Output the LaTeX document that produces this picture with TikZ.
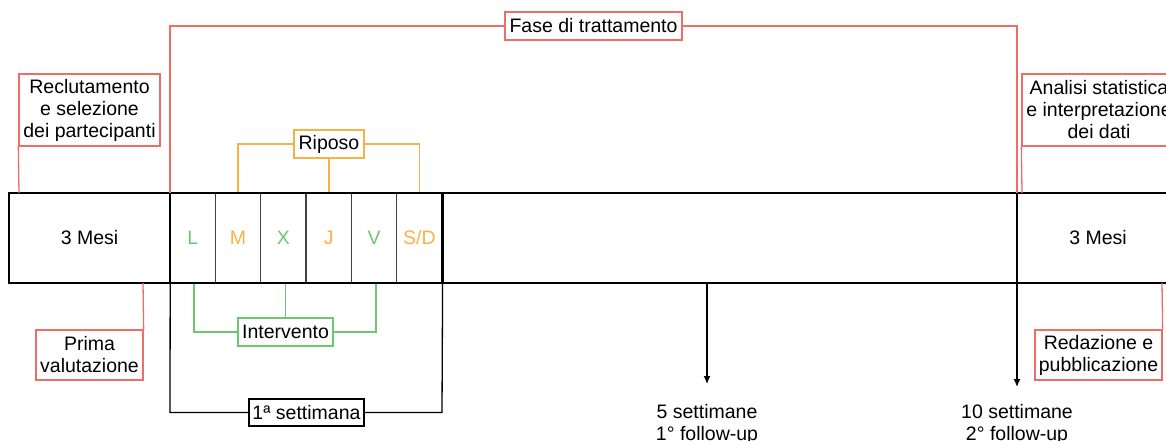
\documentclass[tikz,border=0pt]{standalone}
\usepackage{fontspec}
\setmainfont{Liberation Sans}
\usepackage{tikz}
\usetikzlibrary{arrows.meta,calc}
\definecolor{fs_red}{RGB}{236, 110, 102}
\definecolor{fs_orange}{RGB}{246, 178, 70}
\definecolor{fs_green}{RGB}{112, 198, 112}
\tikzstyle{rb}=[rectangle,draw=fs_red,fill=white,line width=1.3pt,
  inner sep=1pt,align=center]
\tikzstyle{ob}=[rectangle,draw=fs_orange,fill=white,line width=1.3pt,
  inner sep=1pt,minimum width=70pt,minimum height=28pt]
\tikzstyle{gb}=[rectangle,draw=fs_green,fill=white,line width=1.3pt,
  inner sep=1pt,minimum width=95pt,minimum height=28pt]
\tikzstyle{kb}=[rectangle,draw=black,fill=white,line width=1.3pt,
  inner sep=1pt,minimum width=115pt,minimum height=27pt]
\tikzstyle{day}=[rectangle,draw=black!75,line width=1.2pt,inner sep=0pt,
  minimum width=45.33pt,minimum height=90pt]
\tikzstyle{big}=[rectangle,inner sep=0pt,minimum height=90pt]
\tikzstyle{fu}=[align=center,inner sep=0pt,anchor=north]
\tikzstyle{bar}=[draw=black,line width=2.5pt]
\tikzstyle{rl}=[draw=fs_red,line width=1.3pt]
\tikzstyle{ol}=[draw=fs_orange,line width=1.3pt]
\tikzstyle{gl}=[draw=fs_green,line width=1.3pt]
\tikzstyle{kl}=[draw=black,line width=1.3pt]
\tikzstyle{none}=[]

\begin{document}
\begin{tikzpicture}[x=1pt, y=-1pt, every node/.style={font=\fontsize{19.5}{22}\selectfont}]
            \useasboundingbox (0,0) rectangle (1166,441);
            \clip (0,0) rectangle (1166,441);
            % barra
            \node [style=big, minimum width=161pt] (m1) at (89.5, 238) {3 Mesi};
            \node [style=day, text=fs_green] (dL) at (192.67, 238) {L};
            \node [style=day, text=fs_orange] (dM) at (238, 238) {M};
            \node [style=day, text=fs_green] (dX) at (283.33, 238) {X};
            \node [style=day, text=fs_orange] (dJ) at (328.67, 238) {J};
            \node [style=day, text=fs_green] (dV) at (374, 238) {V};
            \node [style=day, text=fs_orange] (dSD) at (419.33, 238) {S/D};
            \node [style=big, minimum width=575pt] (rest) at (729.5, 238) {};
            \node [style=big, minimum width=162pt] (m2) at (1098, 238) {3 Mesi};
            \draw [style=bar] (m1.north west) rectangle (m2.south east);
            \draw [style=bar] (m1.north east) to (m1.south east);
            \draw [style=bar] (dSD.north east) to (dSD.south east);
            \draw [style=bar] (m2.north west) to (m2.south west);
            % sopra
            \node [style=rb, minimum width=177pt, minimum height=28pt] (fase) at (593.5, 26) {Fase di trattamento};
            \node [style=rb, minimum width=141pt, minimum height=72pt] (rec) at (89.5, 110) {Reclutamento\\e selezione\\dei partecipanti};
            \node [style=rb, minimum width=154pt, minimum height=72pt] (ana) at (1099, 110) {Analisi statistica\\e interpretazione\\dei dati};
            \node [style=ob] (rip) at (329, 144) {Riposo};
            \node [style=none] (1) at (170, 193) {};
            \node [style=none] (2) at (170, 26) {};
            \node [style=none] (3) at (1017, 26) {};
            \node [style=none] (4) at (1017, 193) {};
            \node [style=none] (5) at (19, 193) {};
            \node [style=none] (6) at (1022, 193) {};
            \node [style=none] (7) at (238, 144) {};
            \node [style=none] (8) at (419.33, 144) {};
            \draw [style=rl] (1.center) to (2.center) to (fase);
            \draw [style=rl] (fase) to (3.center) to (4.center);
            \draw [style=rl] (rec.south west) to (5.center);
            \draw [style=rl] (ana.south west) to (6.center);
            \draw [style=ol] (dM.north) to (7.center) to (rip);
            \draw [style=ol] (rip) to (8.center) to (dSD.north);
            \draw [style=ol] (rip) to (rip |- dJ.north);
            % sotto
            \node [style=gb] (int) at (285.5, 332) {Intervento};
            \node [style=rb, minimum width=107pt, minimum height=50pt] (pv) at (89.5, 355) {Prima\\valutazione};
            \node [style=rb, minimum width=127pt, minimum height=50pt] (red) at (1098.5, 355) {Redazione e\\pubblicazione};
            \node [style=kb] (sett) at (306.5, 412.5) {1ª settimana};
            \node [style=fu] (fu1) at (707, 404) {5 settimane\\1° follow-up};
            \node [style=fu] (fu2) at (1017, 404) {10 settimane\\2° follow-up};
            \node [style=none] (9) at (194, 332) {};
            \node [style=none] (10) at (376, 332) {};
            \node [style=none] (11) at (143, 283) {};
            \node [style=none] (12) at (170, 412.5) {};
            \node [style=none] (13) at (442, 412.5) {};
            \node [style=none] (14) at (1162, 283) {};
            \node [style=none] (15) at (707, 283) {};
            \node [style=none] (16) at (707, 384) {};
            \node [style=none] (17) at (1017, 283) {};
            \node [style=none] (18) at (1017, 387) {};
            \draw [style=gl] (9 |- dL.south) to (9.center) to (int);
            \draw [style=gl] (int) to (10.center) to (10 |- dV.south);
            \draw [style=gl] (int) to (int |- dX.south);
            \draw [style=rl] (pv.north east) to (11.center);
            \draw [style=rl] (red.north east) to (14.center);
            \draw [style=kl] (m1.south east) to (12.center) to (sett);
            \draw [style=kl] (sett) to (13.center) to (dSD.south east);
            \draw [style=kl, -{Latex[length=8pt,width=7pt]}] (15.center) to (16.center);
            \draw [style=kl, -{Latex[length=8pt,width=7pt]}] (17.center) to (18.center);
    \end{tikzpicture}
\end{document}
